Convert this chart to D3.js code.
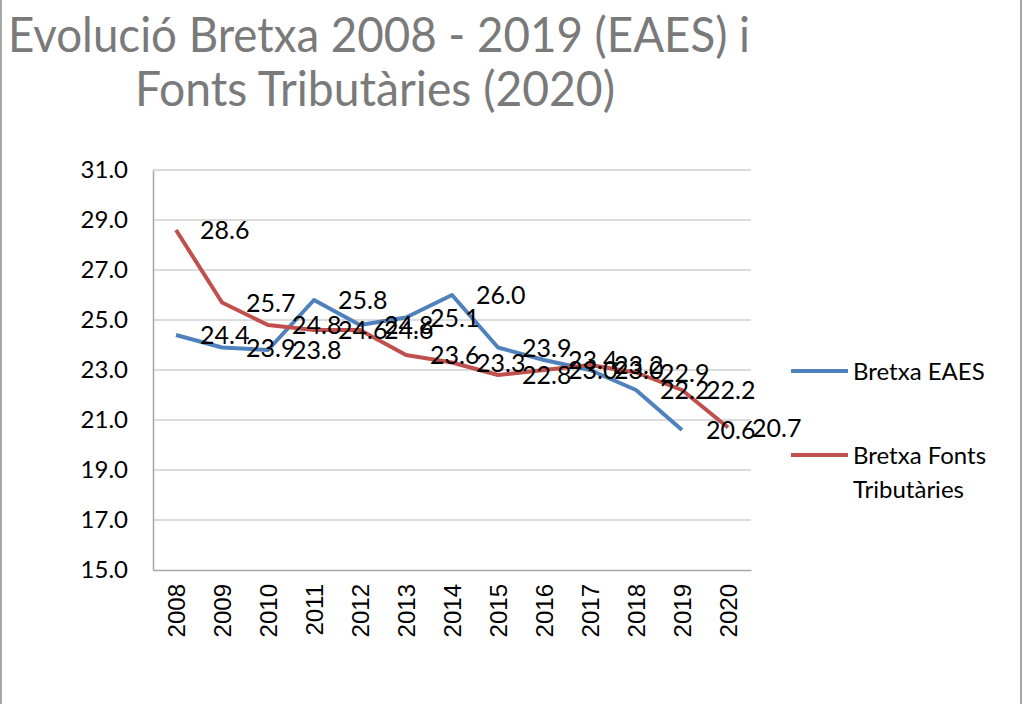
<!DOCTYPE html>
<html>
<head>
<meta charset="utf-8">
<script src="https://cdn.jsdelivr.net/npm/d3@7"></script>
<style>
  body { margin: 0; background: #fff; }
  svg text { font-family: Lato, "Open Sans", sans-serif; }
</style>
</head>
<body>
<div id="chart"></div>
<script>
// dades llegides del gràfic
const years = ['2008', '2009', '2010', '2011', '2012', '2013', '2014', '2015', '2016', '2017', '2018', '2019', '2020'];
const bretxaEAES = [24.4, 23.9, 23.8, 25.8, 24.8, 25.1, 26.0, 23.9, 23.4, 23.0, 22.2, 20.6, null];
const bretxaFonts = [28.6, 25.7, 24.8, 24.6, 24.6, 23.6, 23.3, 22.8, 23.0, 23.2, 22.9, 22.2, 20.7];
const yTicks = [15, 17, 19, 21, 23, 25, 27, 29, 31];
const seriesNames = ['Bretxa EAES', 'Bretxa Fonts Tributàries'];

const svgWidth = 1024,
    svgHeight = 704,
    margin = {top: 170, right: 273, bottom: 134, left: 153},
    width = svgWidth - margin.left - margin.right,
    height = svgHeight - margin.top - margin.bottom;

const svg = d3.select('#chart')
    .append('svg')
    .attr('width', svgWidth)
    .attr('height', svgHeight);

// marc lateral
svg.append('line').attr('x1', 1).attr('x2', 1).attr('y1', 0).attr('y2', svgHeight)
    .attr('stroke', '#a6a6a6').attr('stroke-width', 2);
svg.append('line').attr('x1', 1021).attr('x2', 1021).attr('y1', 0).attr('y2', svgHeight)
    .attr('stroke', '#a6a6a6').attr('stroke-width', 2);

// títol (Calibri és més estreta, per això textLength)
svg.append('text')
    .attr('x', 8).attr('y', 52)
    .attr('fill', '#7a7a7a')
    .attr('textLength', 742)
    .attr('lengthAdjust', 'spacingAndGlyphs')
    .style('font-size', '48px')
    .text('Evolució Bretxa 2008 - 2019 (EAES) i');
svg.append('text')
    .attr('x', 135).attr('y', 106)
    .attr('fill', '#7a7a7a')
    .attr('textLength', 480)
    .attr('lengthAdjust', 'spacingAndGlyphs')
    .style('font-size', '48px')
    .text('Fonts Tributàries (2020)');

const x = d3.scalePoint().domain(years).range([0, width]).padding(0.5),
    y = d3.scaleLinear().domain([15, 31]).range([height, 0]);

const g = svg.append('g')
    .attr('transform', 'translate(' + margin.left + ',' + margin.top + ')');

// línies de quadrícula
g.append('g')
    .selectAll('line')
    .data(yTicks.slice(1))
    .enter()
    .append('line')
    .attr('x1', 0)
    .attr('x2', width)
    .attr('y1', d => y(d))
    .attr('y2', d => y(d))
    .attr('stroke', '#d0d0d0')
    .attr('stroke-width', 1.5);

const yAxis = g.append('g')
    .call(d3.axisLeft(y).tickValues(yTicks).tickSize(0).tickPadding(25).tickFormat(d3.format('.1f')));
yAxis.select('.domain').attr('stroke', '#a6a6a6').attr('stroke-width', 1.5);
yAxis.selectAll('text').style('font-size', '24px').attr('fill', '#000');

const xAxis = g.append('g')
    .attr('transform', `translate(0, ${ height })`)
    .call(d3.axisBottom(x).tickSize(0).tickPadding(0));
xAxis.select('.domain').attr('stroke', '#a6a6a6').attr('stroke-width', 1.5);
xAxis.selectAll('text')
    .attr('transform', 'rotate(-90)')
    .attr('x', -14)
    .attr('y', 0)
    .attr('dy', '0.35em')
    .attr('text-anchor', 'end')
    .attr('fill', '#000')
    .style('font-family', '"Liberation Sans", Arial, sans-serif')
    .style('font-size', '24px');

const series = [
    {name: seriesNames[0], values: bretxaEAES, color: '#4f81bd'},
    {name: seriesNames[1], values: bretxaFonts, color: '#c0504d'}
];

const line = d3.line()
    .defined(d => d.v !== null)
    .x(d => x(d.year))
    .y(d => y(d.v));

series.forEach(s => {
    const pts = years.map((yr, i) => ({year: yr, v: s.values[i]}));
    g.append('path')
        .datum(pts)
        .attr('fill', 'none')
        .attr('stroke', s.color)
        .attr('stroke-width', 4)
        .attr('stroke-linejoin', 'round')
        .attr('d', line);
    s.pts = pts;
});

// etiquetes de dades
series.forEach(s => {
    g.append('g')
        .selectAll('text')
        .data(s.pts.filter(d => d.v !== null))
        .enter()
        .append('text')
        .attr('x', d => x(d.year) + 24)
        .attr('y', d => y(d.v))
        .attr('dy', '0.36em')
        .attr('fill', '#000')
        .style('font-size', '25px')
        .text(d => d.v.toFixed(1));
});

// llegenda
const legend = svg.append('g');
const legendY = [371, 455];
series.forEach((s, i) => {
    legend.append('line')
        .attr('x1', 791).attr('x2', 848)
        .attr('y1', legendY[i]).attr('y2', legendY[i])
        .attr('stroke', s.color).attr('stroke-width', 4);
});
legend.append('text').attr('x', 853).attr('y', legendY[0]).attr('dy', '0.36em')
    .style('font-size', '24px').attr('fill', '#000').text('Bretxa EAES');
legend.append('text').attr('x', 853).attr('y', legendY[1]).attr('dy', '0.36em')
    .style('font-size', '24px').attr('fill', '#000').text('Bretxa Fonts');
legend.append('text').attr('x', 853).attr('y', legendY[1] + 34).attr('dy', '0.36em')
    .style('font-size', '24px').attr('fill', '#000').text('Tributàries');
</script>
</body>
</html>
